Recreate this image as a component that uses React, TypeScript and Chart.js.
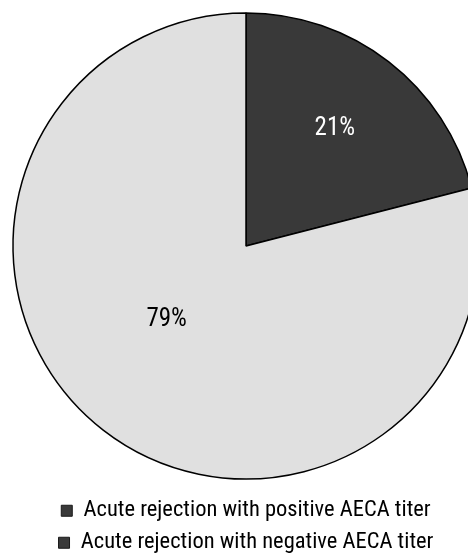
import React, { useEffect, useRef } from "react";
import { Chart, registerables } from "chart.js";

Chart.register(...registerables);

// Share of acute rejection episodes by AECA titer status
const categories = [
  "Acute rejection with positive AECA titer",
  "Acute rejection with negative AECA titer",
];
const shares = [21, 79];
const sliceColors = ["#393939", "#e0e0e0"];
const legendSwatches = ["#393939", "#393939"];
const labelColors = ["#ffffff", "#000000"];

// Where each percentage sits inside its slice: fraction of the radius and a
// small turn (radians) away from the slice's middle angle.
const labelPlacement = [
  { depth: 0.63, turn: -0.01 },
  { depth: 0.466, turn: 0.16 },
];

const FONT = "'Roboto Condensed', 'DejaVu Sans Condensed', sans-serif";
const FONT_SIZE = 22.5;
const LABEL_SIZE = 25;

const sliceLabels = {
  id: "sliceLabels",
  afterDatasetsDraw(chart: any) {
    const { ctx } = chart;
    const meta = chart.getDatasetMeta(0);
    meta.data.forEach((arc: any, i: number) => {
      const { x, y, startAngle, endAngle, outerRadius } = arc.getProps(
        ["x", "y", "startAngle", "endAngle", "outerRadius"],
        true
      );
      const place = labelPlacement[i];
      const angle = (startAngle + endAngle) / 2 + place.turn;
      const r = outerRadius * place.depth;
      ctx.save();
      ctx.font = `${LABEL_SIZE}px ${FONT}`;
      ctx.fillStyle = labelColors[i];
      ctx.textAlign = "center";
      ctx.textBaseline = "middle";
      ctx.fillText(`${shares[i]}%`, x + r * Math.cos(angle), y + r * Math.sin(angle));
      ctx.restore();
    });
  },
};

export default function App() {
  const canvasRef = useRef<HTMLCanvasElement | null>(null);

  useEffect(() => {
    if (!canvasRef.current) return;
    const chart = new Chart(canvasRef.current, {
      type: "pie",
      data: {
        labels: categories,
        datasets: [
          {
            data: shares,
            backgroundColor: sliceColors,
            borderColor: "#000000",
            borderWidth: 1.5,
            radius: 233,
          },
        ],
      },
      options: {
        responsive: false,
        devicePixelRatio: 1,
        animation: false,
        layout: { padding: { top: 2 } },
        plugins: {
          tooltip: { enabled: false },
          legend: {
            position: "bottom",
            labels: {
              boxWidth: 11,
              boxHeight: 11,
              padding: 9.5,
              color: "#000000",
              font: { family: FONT, size: FONT_SIZE },
              generateLabels: () =>
                categories.map((text, i) => ({
                  text,
                  fillStyle: legendSwatches[i],
                  strokeStyle: "#1a1a1a",
                  lineWidth: 1,
                  hidden: false,
                  index: i,
                  fontColor: "#000000",
                })),
            },
          },
        },
      },
      plugins: [sliceLabels],
    });
    return () => chart.destroy();
  }, []);

  return (
    <div
      style={{
        position: "absolute",
        left: 0,
        top: 0,
        width: 468,
        height: 559,
        overflow: "hidden",
        background: "#ffffff",
      }}
    >
      <canvas ref={canvasRef} width={492} height={564} style={{ display: "block" }} />
    </div>
  );
}
